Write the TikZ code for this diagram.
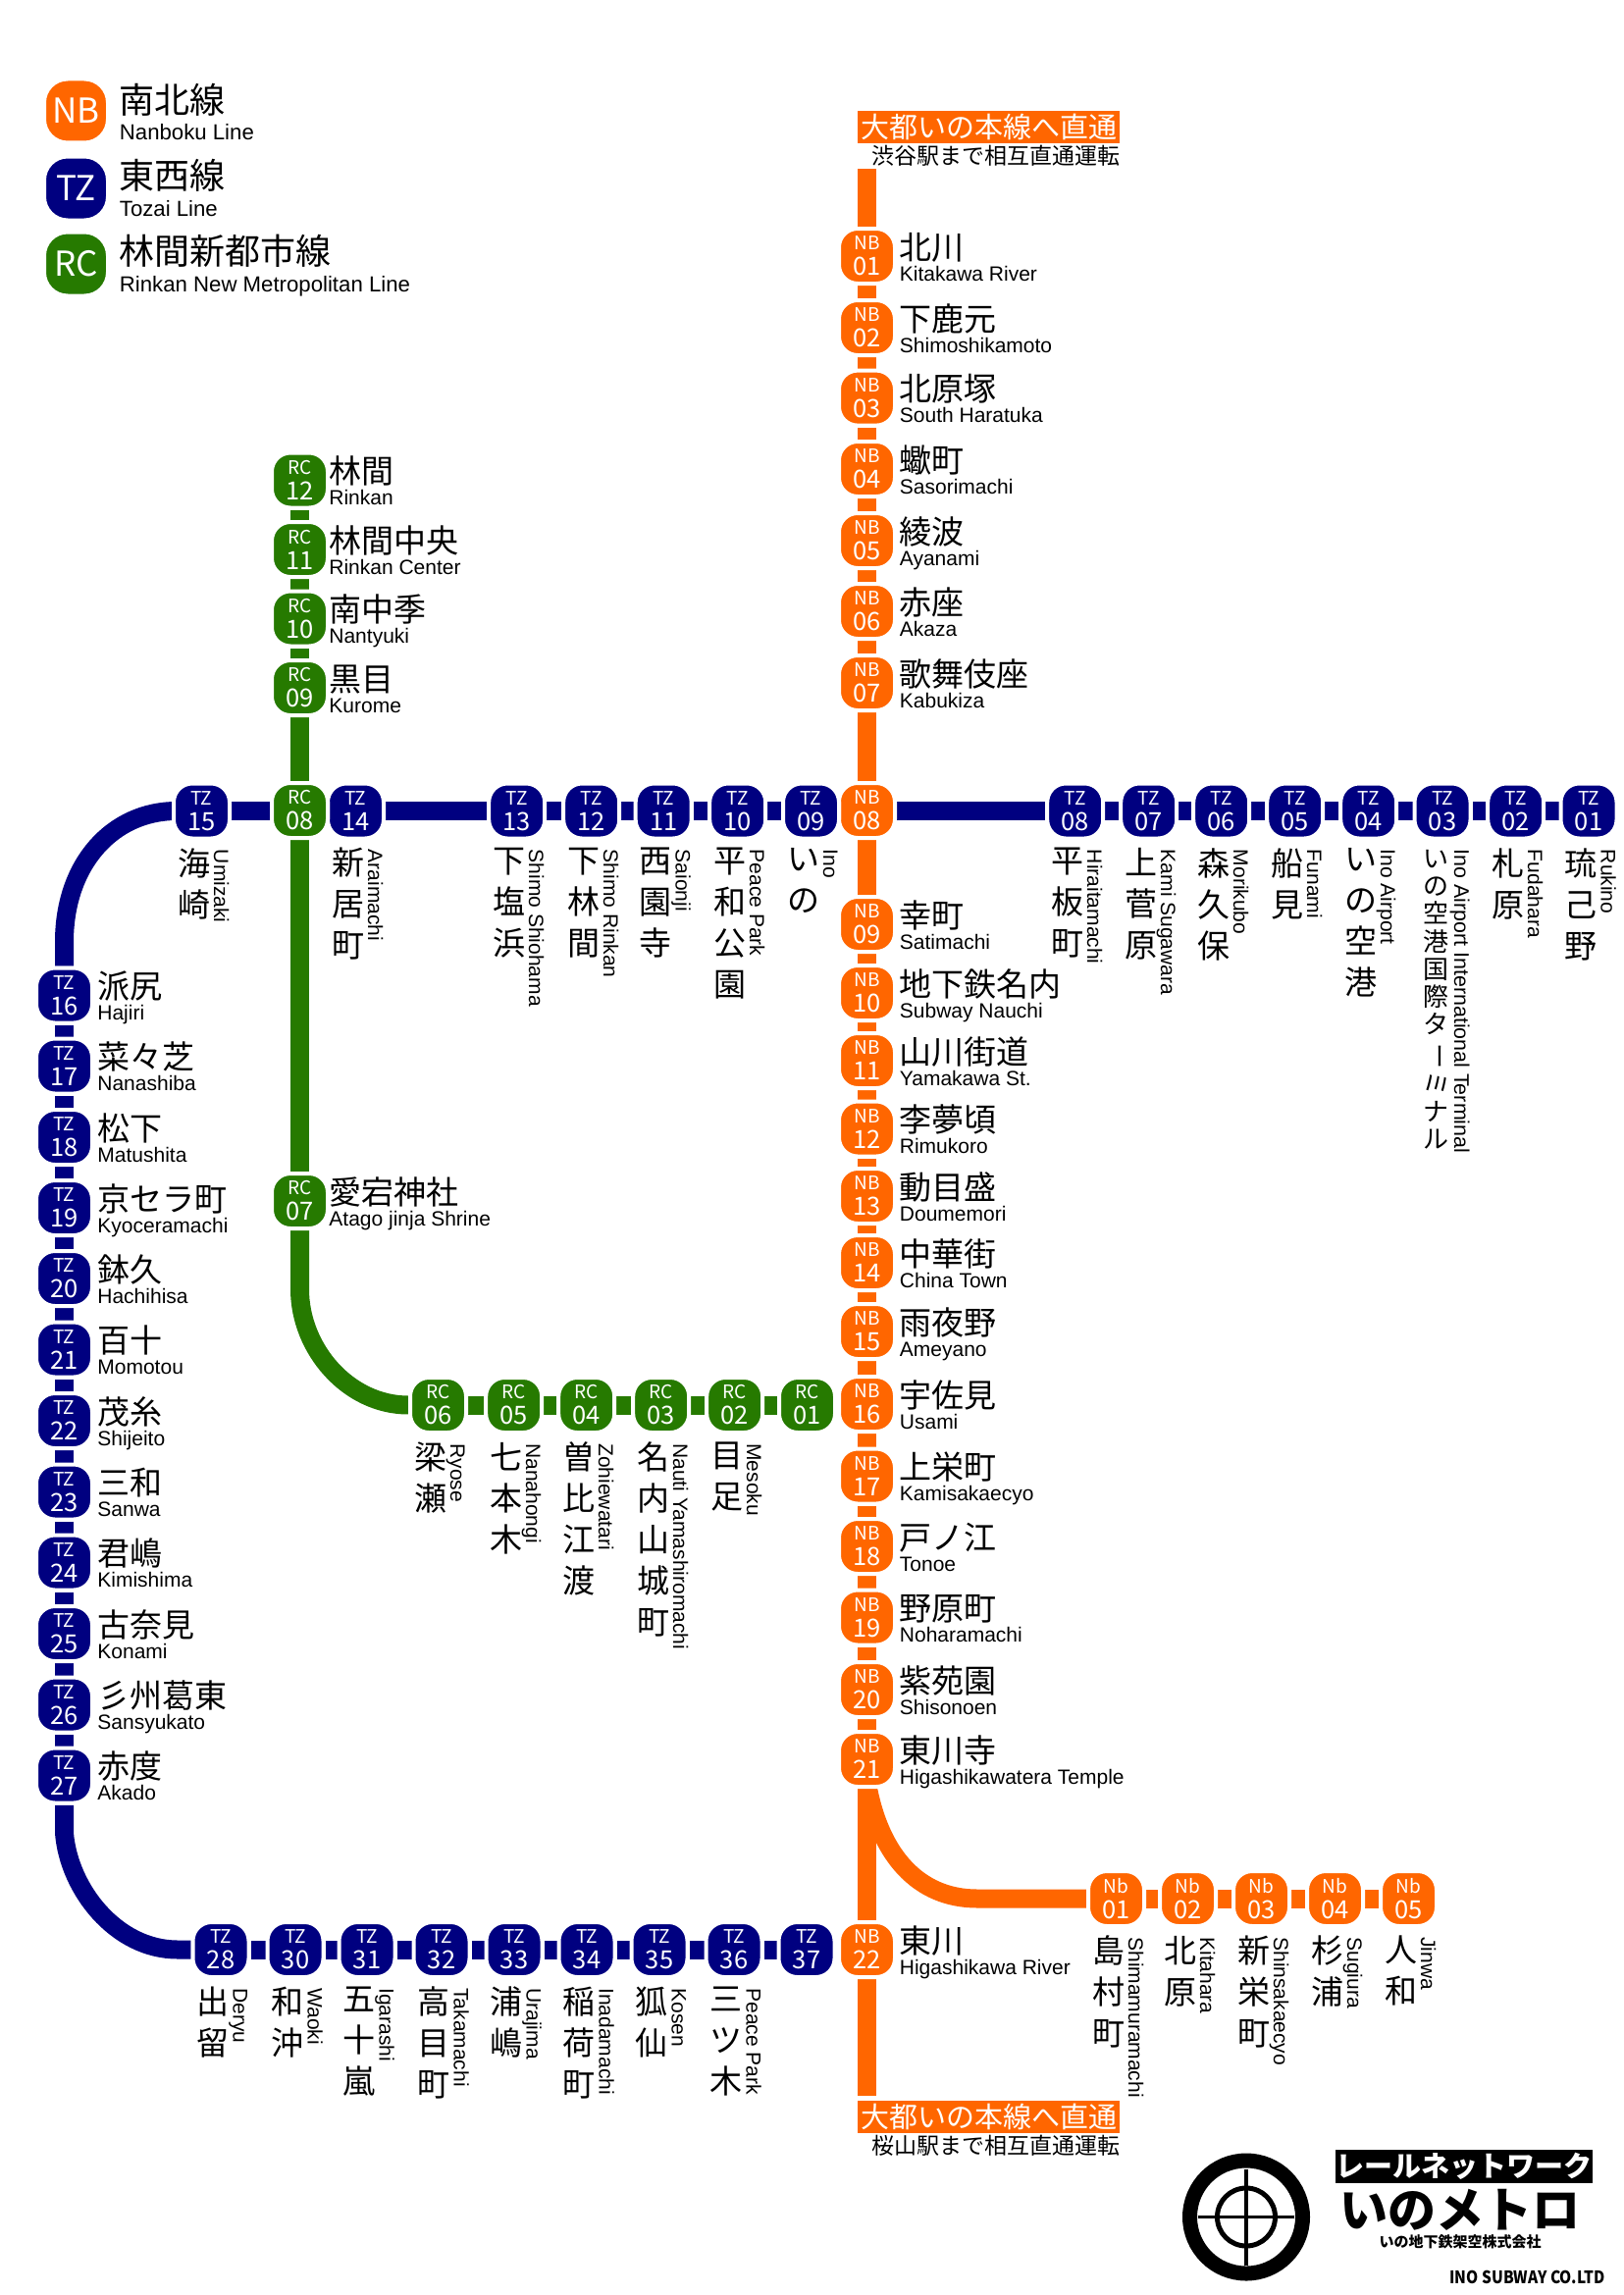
\documentclass[tikz,border=0pt]{standalone}
\usepackage{fontspec}
\setmainfont{Liberation Sans}
\newfontfamily\jp{Noto Sans CJK JP}
\newfontfamily\jpk{Noto Sans CJK JP Black}
\usetikzlibrary{calc}
\definecolor{colNB}{HTML}{FF6600}
\definecolor{colNb}{HTML}{FF6600}
\definecolor{colTZ}{HTML}{000080}
\definecolor{colRC}{HTML}{267A00}
\pgfdeclarelayer{bg}
\pgfsetlayers{bg,main}
\tikzset{
  badge/.style={draw=white,line width=2pt,fill=col#1,rounded corners=9.5pt,minimum width=28.5pt,minimum height=28pt,inner sep=0pt,text=white,align=center,font=\jp\fontsize{9.5}{13}\selectfont},
  legbadge/.style={draw=white,line width=1pt,fill=col#1,rounded corners=11.5pt,minimum width=31.5pt,minimum height=31.5pt,inner sep=0pt,text=white,font=\jp\fontsize{17.5}{20}\selectfont},
  trk/.style={draw=col#1,line width=9.5pt},
  kanji/.style={inner sep=0pt,anchor=base west,font=\jp\fontsize{16.5}{20}\selectfont},
  latin/.style={inner sep=0pt,anchor=base west,font=\fontsize{10.5}{12}\selectfont},
  legk/.style={inner sep=0pt,anchor=base west,font=\jp\fontsize{18}{22}\selectfont},
  legl/.style={inner sep=0pt,anchor=base west,font=\fontsize{11.1}{13}\selectfont},
  vkanji/.style={inner sep=0pt,anchor=north,align=center,font=\jp\fontsize{16.5}{21}\selectfont},
  vsmall/.style={inner sep=0pt,anchor=north,align=center,font=\jp\fontsize{13}{14.15}\selectfont},
  vlatin/.style={inner sep=0pt,anchor=base west,rotate=-90,font=\fontsize{10.5}{12}\selectfont},
  thru/.style={fill=colNB,inner sep=0pt,minimum width=133.5pt,minimum height=16.5pt,text=white,font=\jp\fontsize{14.5}{16}\selectfont},
  thrusub/.style={inner sep=0pt,anchor=east,font=\jp\fontsize{11.5}{13}\selectfont},
}
% horizontal-label station: prefix, number, x, y, label dx, kanji, latin
\newcommand{\sth}[7]{%
  \node[badge=#1] (#1#2) at (#3,#4) {#1\\{\fontsize{12.75}{13}\selectfont #2}};
  \node[kanji] (#1#2k) at ($(#1#2)+(#5,3)$) {#6};
  \node[latin] (#1#2l) at ($(#1#2)+(#5,25)$) {#7};
}
% vertical-label station: prefix, number, x, y, stacked kanji, latin
\newcommand{\stv}[6]{%
  \node[badge=#1] (#1#2) at (#3,#4) {#1\\{\fontsize{12.75}{13}\selectfont #2}};
  \node[vkanji] (#1#2k) at ($(#1#2)+(-8,37.5)$) {#5};
  \node[vlatin] (#1#2l) at ($(#1#2)+(12.5,39)$) {#6};
}
\newcommand{\stb}[4]{%
  \node[badge=#1] (#1#2) at (#3,#4) {#1\\{\fontsize{12.75}{13}\selectfont #2}};
}
\begin{document}
\begin{tikzpicture}[x=0.5pt,y=-0.5pt]
\useasboundingbox (0,0) rectangle (1654,2339);
\begin{pgfonlayer}{bg}
\fill[white] (0,0) rectangle (1654,2339);
\end{pgfonlayer}
% legend
\node[legbadge=NB] (lNB) at (77.5,113) {NB};
\node[legbadge=TZ] (lTZ) at (77.5,192) {TZ};
\node[legbadge=RC] (lRC) at (77.5,269) {RC};
\node[legk] (lNBk) at (121,115.5) {南北線};
\node[legl] (lNBl) at (121.5,142) {Nanboku Line};
\node[legk] (lTZk) at (121,192.5) {東西線};
\node[legl] (lTZl) at (121.5,220) {Tozai Line};
\node[legk] (lRCk) at (121,269.5) {林間新都市線};
\node[legl] (lRCl) at (121.5,297) {Rinkan New Metropolitan Line};
% NB line
\sth{NB}{01}{883.5}{261}{33}{北川}{Kitakawa River}
\sth{NB}{02}{883.5}{334}{33}{下鹿元}{Shimoshikamoto}
\sth{NB}{03}{883.5}{405.6}{33}{北原塚}{South Haratuka}
\sth{NB}{04}{883.5}{478}{33}{蠍町}{Sasorimachi}
\sth{NB}{05}{883.5}{551}{33}{綾波}{Ayanami}
\sth{NB}{06}{883.5}{623}{33}{赤座}{Akaza}
\sth{NB}{07}{883.5}{696}{33}{歌舞伎座}{Kabukiza}
\stb{NB}{08}{883.5}{826}
\sth{NB}{09}{883.5}{942}{33}{幸町}{Satimachi}
\sth{NB}{10}{883.5}{1012}{33}{地下鉄名内}{Subway Nauchi}
\sth{NB}{11}{883.5}{1081}{33}{山川街道}{Yamakawa St.}
\sth{NB}{12}{883.5}{1150.5}{33}{李夢頃}{Rimukoro}
\sth{NB}{13}{883.5}{1219}{33}{動目盛}{Doumemori}
\sth{NB}{14}{883.5}{1287}{33}{中華街}{China Town}
\sth{NB}{15}{883.5}{1357}{33}{雨夜野}{Ameyano}
\sth{NB}{16}{883.5}{1431}{33}{宇佐見}{Usami}
\sth{NB}{17}{883.5}{1504.5}{33}{上栄町}{Kamisakaecyo}
\sth{NB}{18}{883.5}{1576}{33}{戸ノ江}{Tonoe}
\sth{NB}{19}{883.5}{1648.5}{33}{野原町}{Noharamachi}
\sth{NB}{20}{883.5}{1722}{33}{紫苑園}{Shisonoen}
\sth{NB}{21}{883.5}{1793}{33}{東川寺}{Higashikawatera Temple}
\sth{NB}{22}{883.5}{1987}{33}{東川}{Higashikawa River}
% NB branch
\stv{Nb}{01}{1137.5}{1935}{島\\村\\町}{Shimamuramachi}
\stv{Nb}{02}{1210.5}{1935}{北\\原}{Kitahara}
\stv{Nb}{03}{1285.5}{1935}{新\\栄\\町}{Shinsakaecyo}
\stv{Nb}{04}{1360.5}{1935}{杉\\浦}{Sugiura}
\stv{Nb}{05}{1435.5}{1935}{人\\和}{Jinwa}
% TZ top row
\stv{TZ}{01}{1619}{826.5}{琉\\己\\野}{Rukino}
\stv{TZ}{02}{1544.7}{826.5}{札\\原}{Fudahara}
\node[badge=TZ] (TZ03) at (1470,826.5) {TZ\\{\fontsize{12.75}{13}\selectfont 03}};
\node[vsmall] (TZ03k) at ($(TZ03)+(-6.5,39)$) {い\\の\\空\\港\\国\\際\\タ\\\rotatebox[origin=c]{-90}{ー}\\\rotatebox[origin=c]{-90}{ミ}\\ナ\\ル};
\node[vlatin,font=\fontsize{10.7}{12}\selectfont] (TZ03l) at ($(TZ03)+(12,39)$) {Ino Airport International Terminal};
\stv{TZ}{04}{1394.7}{826.5}{い\\の\\空\\港}{Ino Airport}
\stv{TZ}{05}{1319.7}{826.5}{船\\見}{Funami}
\stv{TZ}{06}{1244.7}{826.5}{森\\久\\保}{Morikubo}
\stv{TZ}{07}{1170.7}{826.5}{上\\菅\\原}{Kami Sugawara}
\stv{TZ}{08}{1095.7}{826.5}{平\\板\\町}{Hiraitamachi}
\stv{TZ}{09}{826.5}{826.5}{い\\の}{Ino}
\stv{TZ}{10}{751.7}{826.5}{平\\和\\公\\園}{Peace Park}
\stv{TZ}{11}{676.2}{826.5}{西\\園\\寺}{Saionji}
\stv{TZ}{12}{602.7}{826.5}{下\\林\\間}{Shimo Rinkan}
\stv{TZ}{13}{526.7}{826.5}{下\\塩\\浜}{Shimo Shiohama}
\stv{TZ}{14}{362.5}{826.5}{新\\居\\町}{Araimachi}
\stv{TZ}{15}{205.5}{826.5}{海\\崎}{Umizaki}
% TZ left column
\sth{TZ}{16}{65.5}{1014.5}{33.5}{派尻}{Hajiri}
\sth{TZ}{17}{65.5}{1086.5}{33.5}{菜々芝}{Nanashiba}
\sth{TZ}{18}{65.5}{1159}{33.5}{松下}{Matushita}
\sth{TZ}{19}{65.5}{1231}{33.5}{京セラ町}{Kyoceramachi}
\sth{TZ}{20}{65.5}{1303}{33.5}{鉢久}{Hachihisa}
\sth{TZ}{21}{65.5}{1375.5}{33.5}{百十}{Momotou}
\sth{TZ}{22}{65.5}{1448}{33.5}{茂糸}{Shijeito}
\sth{TZ}{23}{65.5}{1520.5}{33.5}{三和}{Sanwa}
\sth{TZ}{24}{65.5}{1592.5}{33.5}{君嶋}{Kimishima}
\sth{TZ}{25}{65.5}{1665}{33.5}{古奈見}{Konami}
\sth{TZ}{26}{65.5}{1737.5}{33.5}{彡州葛東}{Sansyukato}
\sth{TZ}{27}{65.5}{1809.5}{33.5}{赤度}{Akado}
% TZ bottom row
\stv{TZ}{28}{225}{1987}{出\\留}{Deryu}
\stv{TZ}{30}{301}{1987}{和\\沖}{Waoki}
\stv{TZ}{31}{374}{1987}{五\\十\\嵐}{Igarashi}
\stv{TZ}{32}{450}{1987}{高\\目\\町}{Takamachi}
\stv{TZ}{33}{524}{1987}{浦\\嶋}{Urajima}
\stv{TZ}{34}{598}{1987}{稲\\荷\\町}{Inadamachi}
\stv{TZ}{35}{672}{1987}{狐\\仙}{Kosen}
\stv{TZ}{36}{748}{1987}{三\\ツ\\木}{Peace Park}
\stb{TZ}{37}{822}{1987}
% RC line
\sth{RC}{12}{305.5}{489.5}{29.5}{林間}{Rinkan}
\sth{RC}{11}{305.5}{560}{29.5}{林間中央}{Rinkan Center}
\sth{RC}{10}{305.5}{630.5}{29.5}{南中季}{Nantyuki}
\sth{RC}{09}{305.5}{701}{29.5}{黒目}{Kurome}
\stb{RC}{08}{305.5}{826}
\sth{RC}{07}{305.5}{1224}{29.5}{愛宕神社}{Atago jinja Shrine}
\stv{RC}{06}{446.5}{1432}{梁\\瀬}{Ryose}
\stv{RC}{05}{523.7}{1432}{七\\本\\木}{Nanahongi}
\stv{RC}{04}{597.7}{1432}{曽\\比\\江\\渡}{Zohiewatari}
\stv{RC}{03}{673.7}{1432}{名\\内\\山\\城\\町}{Nauti Yamashiromachi}
\stv{RC}{02}{748.7}{1432}{目\\足}{Mesoku}
\stb{RC}{01}{822.5}{1432}
% through-service notes
\node[thru] (thruN) at (1007.75,129.5) {大都いの本線へ直通};
\node[thrusub] (subN) at (1141.5,159) {渋谷駅まで相互直通運転};
\node[thru] (thruS) at (1007.75,2157.5) {大都いの本線へ直通};
\node[thrusub] (subS) at (1141.5,2186.5) {桜山駅まで相互直通運転};
% connectors
\coordinate (nbt) at (883.5,172);
\coordinate (nbb) at (883.5,2136);
\coordinate (brA) at (884,1820);
\coordinate (brB) at (996,1935);
\coordinate (rcA) at (305.5,1314);
\coordinate (rcB) at (416,1432);
\coordinate (tlA) at (65.5,960);
\coordinate (tlB) at (180,826.5);
\coordinate (blA) at (65.5,1868);
\coordinate (blB) at (181,1987);
\begin{pgfonlayer}{bg}
\draw[trk=NB] (nbt) -- (NB01);
\foreach \a/\b in {NB01/NB02,NB02/NB03,NB03/NB04,NB04/NB05,NB05/NB06,NB06/NB07,NB07/NB08,NB08/NB09,NB09/NB10,NB10/NB11,NB11/NB12,NB12/NB13,NB13/NB14,NB14/NB15,NB15/NB16,NB16/NB17,NB17/NB18,NB18/NB19,NB19/NB20,NB20/NB21,NB21/NB22}
  \draw[trk=NB] (\a) -- (\b);
\draw[trk=NB] (NB22) -- (nbb);
\draw[trk=NB] (brA) .. controls (897,1890) and (935,1935) .. (brB) -- (Nb01);
\foreach \a/\b in {Nb01/Nb02,Nb02/Nb03,Nb03/Nb04,Nb04/Nb05}
  \draw[trk=NB] (\a) -- (\b);
\foreach \a/\b in {TZ01/TZ02,TZ02/TZ03,TZ03/TZ04,TZ04/TZ05,TZ05/TZ06,TZ06/TZ07,TZ07/TZ08,TZ08/TZ09,TZ09/TZ10,TZ10/TZ11,TZ11/TZ12,TZ12/TZ13,TZ13/TZ14,TZ14/TZ15,TZ16/TZ17,TZ17/TZ18,TZ18/TZ19,TZ19/TZ20,TZ20/TZ21,TZ21/TZ22,TZ22/TZ23,TZ23/TZ24,TZ24/TZ25,TZ25/TZ26,TZ26/TZ27,TZ28/TZ30,TZ30/TZ31,TZ31/TZ32,TZ32/TZ33,TZ33/TZ34,TZ34/TZ35,TZ35/TZ36,TZ36/TZ37}
  \draw[trk=TZ] (\a) -- (\b);
\draw[trk=TZ] (TZ16) -- (tlA) .. controls (65.5,880) and (115,826.5) .. (tlB) -- (TZ15);
\draw[trk=TZ] (TZ27) -- (blA) .. controls (70,1925) and (118,1987) .. (blB) -- (TZ28);
\foreach \a/\b in {RC12/RC11,RC11/RC10,RC10/RC09,RC09/RC08,RC08/RC07,RC06/RC05,RC05/RC04,RC04/RC03,RC03/RC02,RC02/RC01}
  \draw[trk=RC] (\a) -- (\b);
\draw[trk=RC] (RC07) -- (rcA) .. controls (305.5,1375) and (355,1432) .. (rcB) -- (RC06);
\end{pgfonlayer}
% logo
\draw[line width=7.5pt] (1270,2259.5) circle [radius=28.75pt];
\draw[line width=2.5pt] (1270,2259.5) circle [radius=14.75pt];
\draw[line width=1.75pt] (1221,2259.5) -- (1319,2259.5);
\draw[line width=1.75pt] (1270,2210.5) -- (1270,2308.5);
\node[fill=black,text=white,inner sep=0pt,minimum width=131pt,minimum height=17.2pt,font=\jp\bfseries\fontsize{14.5}{16}\selectfont] (railnet) at (1492,2208) {レールネットワーク};
\node[inner sep=0pt,font=\jpk\fontsize{24.5}{28}\selectfont] (inometro) at (1487.5,2252) {いのメトロ};
\node[inner sep=0pt,font=\jp\bfseries\fontsize{7.5}{9}\selectfont] (inocorp) at (1488,2285) {いの地下鉄架空株式会社};
\node[inner sep=0pt,anchor=base east,font=\jp\bfseries\fontsize{8.8}{11}\selectfont] (inoen) at (1636,2327) {\scalebox{.88}[1]{INO SUBWAY CO.LTD}};
\end{tikzpicture}
\end{document}
